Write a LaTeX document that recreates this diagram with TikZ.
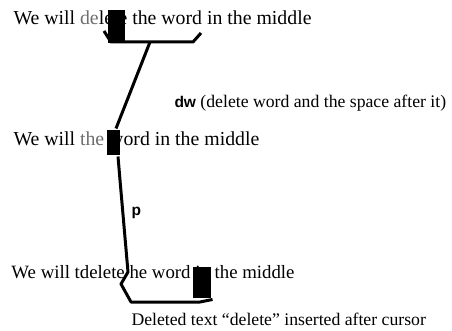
\documentclass[tikz,border=0pt]{standalone}
\usepackage{fontspec}
\setmainfont{Liberation Serif}
\setsansfont{Liberation Sans}
\usetikzlibrary{positioning}
\definecolor{cfade}{HTML}{6E6E6E}
\tikzset{
  every picture/.style={line width=3pt},
  textline/.style={anchor=base west, inner sep=0pt, font=\fontsize{19.8}{22}\selectfont},
  note/.style={anchor=base west, inner sep=0pt, font=\fontsize{17.7}{20}\selectfont},
  cmd/.style={font=\sffamily\bfseries\fontsize{15.5}{18}\selectfont},
  cursor/.style={fill=black, draw=none, inner sep=0pt, minimum width=#1},
  cursor/.default=16pt,
  conn/.style={draw=black, line join=round},
}

\begin{document}
\begin{tikzpicture}[x=1pt, y=-1pt]
  \useasboundingbox (0,0) rectangle (452,331);
  % the three states of the line
  \node[textline] (line1) at (12,25) {We will \textcolor{cfade}{de}lete the word in the middle};
  \node[textline] (line2) at (12,146) {We will \textcolor{cfade}{the} word in the middle};
  \node[textline, font=\fontsize{18.8}{21}\selectfont] (line3) at (10,278) {We will tdelete he word in the middle};
  % cursors
  \node[cursor=17pt, minimum height=33pt] (cur1) at (116,26.5) {};
  \node[cursor=13pt, minimum height=25pt] (cur2) at (113.5,142.5) {};
  \node[cursor=18pt, minimum height=31pt] (cur3) at (202,282.5) {};
  % dw
  \coordinate (brL) at (104,31);
  \coordinate (brR) at (201,33);
  \coordinate (fork) at (150,42);
  \draw[conn] (brL) -- (111,42) -- (193,42) -- (brR);
  \draw[conn] (fork) -- (cur2.north -| 116,0);
  \node[note] (dw) at (173,108) {\textsf{\bfseries\fontsize{15.5}{18}\selectfont dw} (delete word and the space after it)};
  % p
  \draw[conn] (cur2.south -| 118,0) -- (120,180) -- (128,272) -- (121,284) -- (131,302) -- (200,302) -- (cur3.south east);
  \node[cmd, anchor=base west, inner sep=0pt] (p) at (130,215) {p};
  \node[note] (caption) at (130,325) {Deleted text “delete” inserted after cursor};
\end{tikzpicture}
\end{document}
